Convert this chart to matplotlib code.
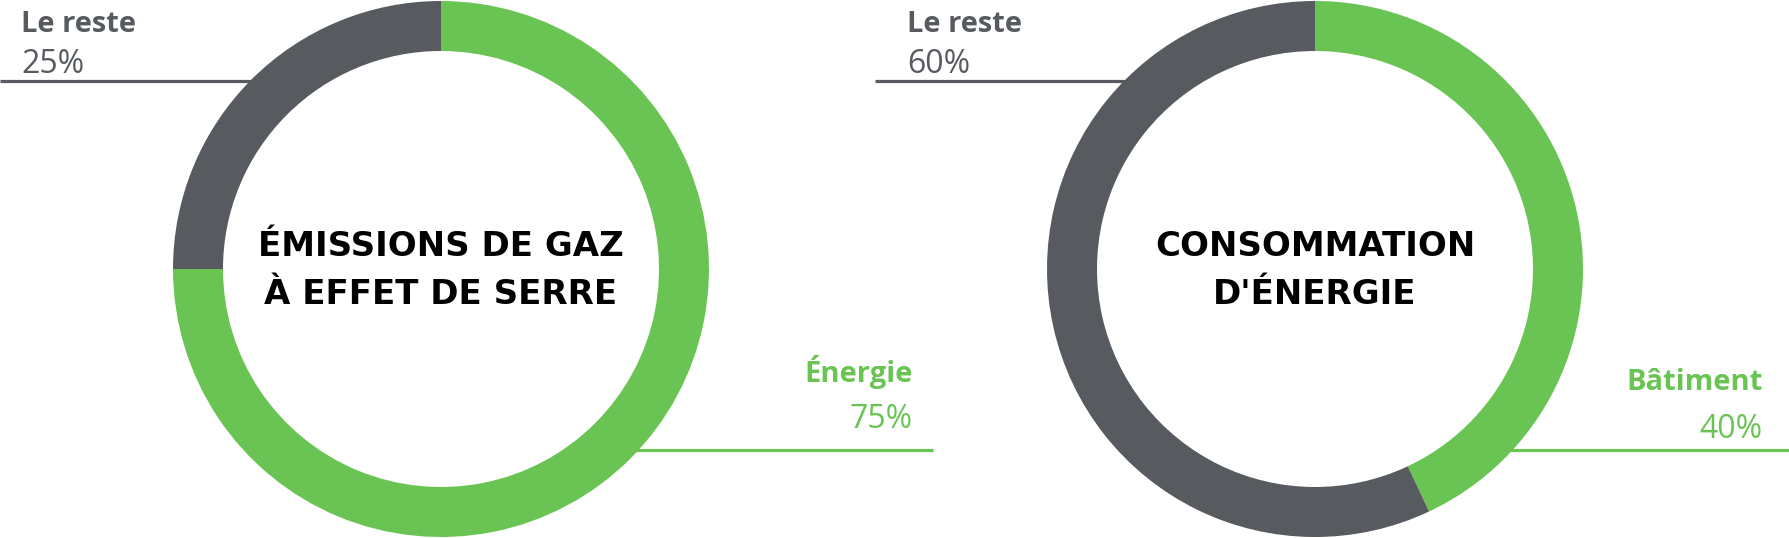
"""
Two donut charts: share of energy in GHG emissions and share of buildings in energy use.
"""

import numpy as np
import matplotlib.pyplot as plt

# --------- Data ---------
GREEN = "#6ac453"
GREY = "#575b60"

left_values = [75, 25]           # Énergie, Le reste
left_labels = ["Énergie", "Le reste"]
left_pct = ["75%", "25%"]
left_title = ["ÉMISSIONS DE GAZ", "À EFFET DE SERRE"]

right_values = [43, 57]          # Bâtiment, Le reste (as drawn in the ring)
right_labels = ["Bâtiment", "Le reste"]
right_pct = ["40%", "60%"]
right_title = ["CONSOMMATION", "D'ÉNERGIE"]

# --------- Layout (pixels, y up) ---------
W, H = 1790, 538
R_OUT, RING = 268, 50
FONT = "Open Sans"
TITLE_FONT = "DejaVu Sans"
GREY_Y, GREEN_Y = 457, 88


def edge_dx(cy, y):
    # horizontal half-width of the outer circle at height y
    return np.sqrt(R_OUT ** 2 - (y - cy) ** 2)


def draw_donut(ax, cx, cy, values, labels, pct, title, grey_x, green_x, green_y):
    ax.pie(values, colors=[GREEN, GREY], center=(cx, cy), radius=R_OUT,
           startangle=90, counterclock=False,
           wedgeprops=dict(width=RING, linewidth=0), frame=True)

    # leader lines running up to the ring
    ax.plot([grey_x[0], cx - edge_dx(cy, GREY_Y) + 4], [GREY_Y, GREY_Y],
            color=GREY, lw=2.3, zorder=0, solid_capstyle="butt")
    ax.plot([cx + edge_dx(cy, GREEN_Y) - 4, green_x[1]], [GREEN_Y, GREEN_Y],
            color=GREEN, lw=2.3, zorder=0, solid_capstyle="butt")

    # "Le reste" label, top left
    ax.text(grey_x[1], 506, labels[1], color=GREY, fontsize=21, fontweight="bold",
            family=FONT, ha="left", va="baseline")
    ax.text(grey_x[1], 465, pct[1], color=GREY, fontsize=23,
            family=FONT, ha="left", va="baseline")

    # green label, bottom right
    ax.text(green_x[0], green_y[0], labels[0], color=GREEN, fontsize=21,
            fontweight="bold", family=FONT, ha="right", va="baseline")
    ax.text(green_x[0], green_y[1], pct[0], color=GREEN, fontsize=23,
            family=FONT, ha="right", va="baseline")

    # title inside the ring
    for line, y in zip(title, [282, 234]):
        ax.text(cx, y, line, color="black", fontsize=24.5, fontweight="bold",
                family=TITLE_FONT, ha="center", va="baseline")


def main():
    fig = plt.figure(figsize=(W / 100, H / 100), dpi=100)
    ax = fig.add_axes([0, 0, 1, 1])

    draw_donut(ax, 441, 269, left_values, left_labels, left_pct, left_title,
               grey_x=(0, 21), green_x=(913, 933), green_y=(156, 110))
    draw_donut(ax, 1315, 269, right_values, right_labels, right_pct, right_title,
               grey_x=(875, 907), green_x=(1763, W), green_y=(148, 100))

    ax.set_xlim(0, W)
    ax.set_ylim(0, H)
    ax.set_aspect("equal")
    ax.axis("off")

    fig.savefig("out.png", dpi=100, facecolor="white")
    plt.close(fig)


if __name__ == "__main__":
    main()
